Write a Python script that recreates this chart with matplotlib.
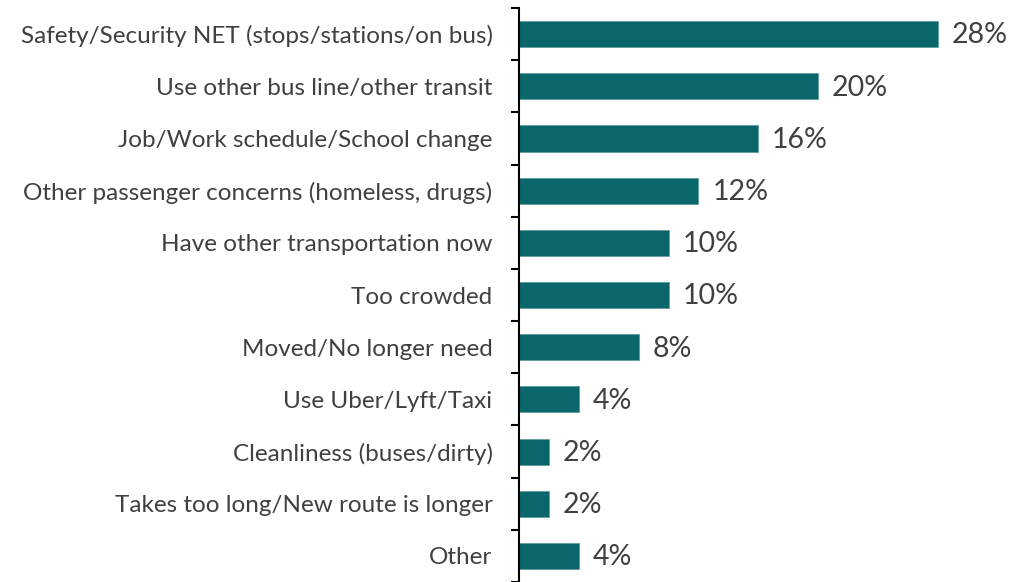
import matplotlib.pyplot as plt

# reasons for riding less
categories = ["Safety/Security NET (stops/stations/on bus)",
              "Use other bus line/other transit",
              "Job/Work schedule/School change",
              "Other passenger concerns (homeless, drugs)",
              "Have other transportation now",
              "Too crowded",
              "Moved/No longer need",
              "Use Uber/Lyft/Taxi",
              "Cleanliness (buses/dirty)",
              "Takes too long/New route is longer",
              "Other"]
values = [28, 20, 16, 12, 10, 10, 8, 4, 2, 2, 4]

plt.rcParams['font.family'] = ['Lato', 'DejaVu Sans']

fig = plt.figure(figsize=(10.26, 5.82), dpi=100)
ax = fig.add_axes([519/1026, 0, 1 - 519/1026, 1 - 8/582])

pos = list(range(len(categories)))
ax.barh(pos, values, height=0.5, color='#0B666B', edgecolor='#5E9EA0', linewidth=0.6)

for p, v in zip(pos, values):
    ax.annotate(f"{v}%", (v, p), xytext=(10, -1), textcoords='offset points',
                va='center', ha='left', fontsize=20.5, color='#404040')

ax.set_xlim(0, 33.9)
ax.set_ylim(len(categories) - 0.5, -0.5)
ax.set_xticks([])
ax.set_yticks(pos)
ax.set_yticklabels(categories, fontsize=17.5, color='#404040')
ax.tick_params(axis='y', which='major', length=0, pad=19)
ax.set_yticks([p + 0.5 for p in range(-1, len(categories))], minor=True)
ax.tick_params(axis='y', which='minor', length=5.5, width=1.5, color='black')

for s in ['top', 'right', 'bottom']:
    ax.spines[s].set_visible(False)
ax.spines['left'].set_linewidth(1.5)

fig.savefig('out.png', dpi=100)
